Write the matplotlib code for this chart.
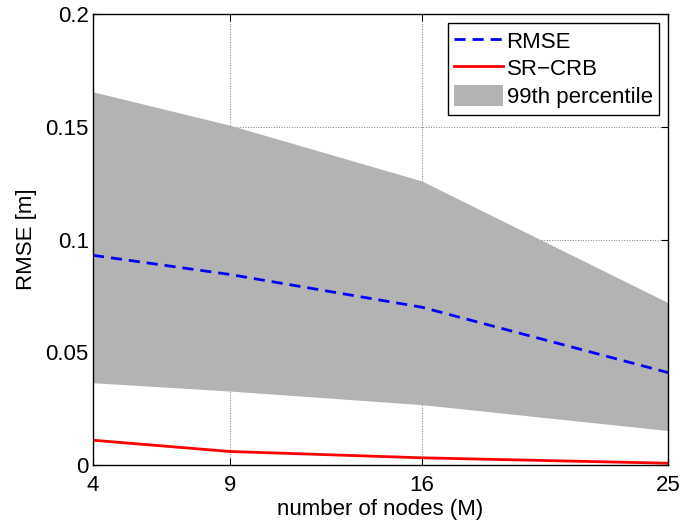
import matplotlib
matplotlib.use("Agg")
import matplotlib.pyplot as plt

# datos
nodos = [4, 9, 16, 25]
rmse = [0.093, 0.0845, 0.070, 0.041]
sr_crb = [0.011, 0.006, 0.0032, 0.0008]
perc_inf = [0.0365, 0.0328, 0.0268, 0.0153]
perc_sup = [0.1655, 0.1507, 0.126, 0.072]

plt.rcParams['font.family'] = ['Liberation Sans', 'DejaVu Sans']
plt.rcParams['font.size'] = 16

fig = plt.figure(figsize=(6.81, 5.27), dpi=100)
ax = fig.add_axes([0.1366, 0.1176, 0.8444, 0.8558])

ax.fill_between(nodos, perc_inf, perc_sup, color='#b3b3b3', linewidth=0, label='99th percentile')
ax.plot(nodos, rmse, '--', color='blue', linewidth=2, dashes=(4, 2.5), label='RMSE')
ax.plot(nodos, sr_crb, '-', color='red', linewidth=2, label='SR\u2212CRB')

ax.set_xlim(4, 25)
ax.set_ylim(0, 0.2)
ax.set_xticks(nodos)
ax.set_xticklabels([str(n) for n in nodos])
ax.set_yticks([0, 0.05, 0.1, 0.15, 0.2])
ax.set_yticklabels(['0', '0.05', '0.1', '0.15', '0.2'])
ax.set_axisbelow(True)
ax.grid(True, linestyle=':', color='#808080', linewidth=0.7)
ax.tick_params(direction='in', top=True, right=True, length=5, width=0.8, labelsize=16, pad=3)
ax.tick_params(axis='x', pad=7)
for s in ax.spines.values():
    s.set_linewidth(1)

ax.set_xlabel('number of nodes (M)', fontsize=16, labelpad=2)
ax.set_ylabel('RMSE [m]', fontsize=16, labelpad=6)

h, l = ax.get_legend_handles_labels()
orden = [1, 2, 0]
leg = ax.legend([h[i] for i in orden], [l[i] for i in orden], loc='upper right',
                fancybox=False, edgecolor='black', framealpha=1, fontsize=16,
                handlelength=2.2, handleheight=1.1, handletextpad=0.15, borderpad=0.3,
                labelspacing=0.2, borderaxespad=0.4)
leg.get_frame().set_linewidth(1)

fig.savefig('out.png', dpi=100)
